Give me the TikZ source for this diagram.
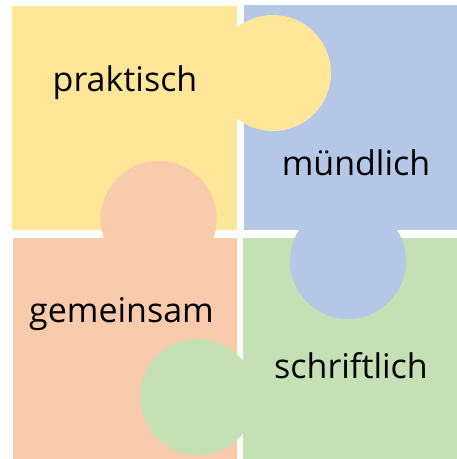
\documentclass[tikz,border=0pt]{standalone}
\usepackage{fontspec}
\setmainfont{Open Sans}
\definecolor{pyellow}{HTML}{FFE699}
\definecolor{pblue}{HTML}{B4C7E7}
\definecolor{porange}{HTML}{F8CBAD}
\definecolor{pgreen}{HTML}{C5E0B4}
\begin{document}
\begin{tikzpicture}[x=1pt,y=-1pt,
  word/.style={anchor=base,inner sep=0pt,text=black,font=\fontsize{34}{40}\selectfont}]
\useasboundingbox (0,0) rectangle (457,459);
% squares
\fill[pyellow] (12,6) rectangle (236.5,230);
\fill[pblue] (244,5) rectangle (457,229.5);
\fill[porange] (12.5,237.5) rectangle (236.5,459);
\fill[pgreen] (242.5,237.5) rectangle (457,459);
% tabs
\fill[pyellow] (273,73) circle[radius=58];
\fill[porange] (158.7,219) circle[radius=58];
\fill[pblue] (348,261) circle[radius=58];
\fill[pgreen] (198,397) circle[radius=58];
% labels
\node[word] (prak) at (125,91) {praktisch};
\node[word] (muend) at (356,175) {mündlich};
\node[word] (gem) at (121.5,322) {gemeinsam};
\node[word] (schr) at (351,378) {schriftlich};
\end{tikzpicture}
\end{document}
